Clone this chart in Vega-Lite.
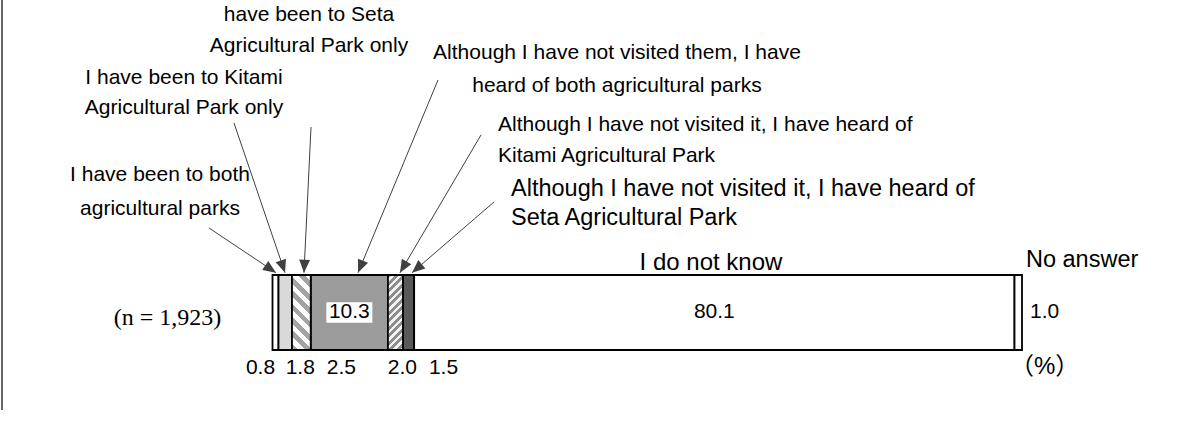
{
  "$schema": "https://vega.github.io/schema/vega-lite/v6.json",
  "width": 1179,
  "height": 421,
  "autosize": "none",
  "padding": 0,
  "background": "white",
  "config": {"view": {"stroke": null}, "text": {"font": "Liberation Sans", "color": "#000"}},
  "datasets": {
    "seg": [
      {"k": "a", "name": "I have been to both agricultural parks", "v": 0.8, "o": 1},
      {"k": "b", "name": "I have been to Kitami Agricultural Park only", "v": 1.8, "o": 2},
      {"k": "c", "name": "I have been to Seta Agricultural Park only", "v": 2.5, "o": 3},
      {"k": "d", "name": "Although I have not visited them, I have heard of both agricultural parks", "v": 10.3, "o": 4},
      {"k": "e", "name": "Although I have not visited it, I have heard of Kitami Agricultural Park", "v": 2.0, "o": 5},
      {"k": "f", "name": "Although I have not visited it, I have heard of Seta Agricultural Park", "v": 1.5, "o": 6},
      {"k": "g", "name": "I do not know", "v": 80.1, "o": 7},
      {"k": "h", "name": "No answer", "v": 1.0, "o": 8}
    ],
    "notes": [
      {"t": "have been to Seta", "x": 4.87, "y": 4.467, "r": "c"},
      {"t": "Agricultural Park only", "x": 4.87, "y": 4.053, "r": "c"},
      {"t": "I have been to Kitami", "x": -11.81, "y": 3.627, "r": "c"},
      {"t": "Agricultural Park only", "x": -11.81, "y": 3.227, "r": "c"},
      {"t": "I have been to both", "x": -15.01, "y": 2.333, "r": "c"},
      {"t": "agricultural parks", "x": -15.01, "y": 1.88, "r": "c"},
      {"t": "Although I have not visited them, I have", "x": 45.96, "y": 3.96, "r": "c"},
      {"t": "heard of both agricultural parks", "x": 45.96, "y": 3.52, "r": "c"},
      {"t": "Although I have not visited it, I have heard of", "x": 30.09, "y": 3.0, "r": "l"},
      {"t": "Kitami Agricultural Park", "x": 30.09, "y": 2.587, "r": "l"},
      {"t": "Although I have not visited it, I have heard of", "x": 31.82, "y": 2.147, "r": "L"},
      {"t": "Seta Agricultural Park", "x": 31.82, "y": 1.76, "r": "L"},
      {"t": "I do not know", "x": 58.5, "y": 1.16, "r": "h"},
      {"t": "No answer", "x": 100.53, "y": 1.2, "r": "hl"},
      {"t": "(n = 1,923)", "x": -14.01, "y": 0.427, "r": "n"},
      {"t": "（%）", "x": 98.4, "y": -0.227, "r": "u"}
    ],
    "leaders": [
      {"x": -8.47, "y": 1.627, "x2": 0.47, "y2": 1.03},
      {"x": -5.14, "y": 3.027, "x2": 1.67, "y2": 1.03},
      {"x": 5.14, "y": 2.973, "x2": 4.2, "y2": 1.03},
      {"x": 22.08, "y": 3.6, "x2": 11.41, "y2": 1.03},
      {"x": 27.82, "y": 2.867, "x2": 17.01, "y2": 1.03},
      {"x": 29.55, "y": 1.973, "x2": 18.61, "y2": 1.03}
    ],
    "frame": [{"edge": -36.09, "top": 4.6667, "bottom": -0.8}]
  },
  "layer": [
    {
      "data": {"name": "frame"},
      "mark": {"type": "rule", "stroke": "#000000", "strokeWidth": 1.2},
      "encoding": {
        "x": {"field": "edge", "type": "quantitative", "scale": {"domain": [-36.358, 120.947], "nice": false, "zero": false}, "axis": null},
        "y": {"field": "top", "type": "quantitative", "scale": {"domain": [-0.9467, 4.6667], "nice": false, "zero": false}, "axis": null},
        "y2": {"field": "bottom"}
      }
    },
    {
      "data": {"name": "seg"},
      "transform": [{"stack": "v", "sort": [{"field": "o", "order": "ascending"}], "groupby": [], "as": ["x0", "x1"]}],
      "mark": {"type": "rect", "stroke": "#000", "strokeWidth": 1.8},
      "encoding": {
        "x": {"field": "x0", "type": "quantitative", "scale": {"domain": [-36.358, 120.947], "nice": false, "zero": false}, "axis": null},
        "x2": {"field": "x1"},
        "y": {"datum": 0, "type": "quantitative", "scale": {"domain": [-0.9467, 4.6667], "nice": false, "zero": false}, "axis": null},
        "y2": {"datum": 1},
        "fill": {"field": "k", "type": "nominal", "scale": {"domain": ["a", "b", "c", "d", "e", "f", "g", "h"], "range": ["#ffffff", "#d9d9d9", "#ffffff", "#9b9b9b", "#ffffff", "#595959", "#ffffff", "#ffffff"]}, "legend": null}
      }
    },
    {
      "data": {"name": "seg"},
      "transform": [{"stack": "v", "sort": [{"field": "o", "order": "ascending"}], "groupby": [], "as": ["x0", "x1"]}, {"filter": "datum.k == 'c'"}],
      "mark": {"type": "rect", "stroke": "#000", "strokeWidth": 1.8,
        "fill": {"gradient": "linear", "x1": 0, "y1": 1, "x2": 0.2933, "y2": -0.1763, "stops": [
          {"offset": 0, "color": "#a3a3a3"}, {"offset": 0.0714, "color": "#a3a3a3"}, {"offset": 0.0714, "color": "#ffffff"}, {"offset": 0.1429, "color": "#ffffff"},
          {"offset": 0.1429, "color": "#a3a3a3"}, {"offset": 0.2143, "color": "#a3a3a3"}, {"offset": 0.2143, "color": "#ffffff"}, {"offset": 0.2857, "color": "#ffffff"},
          {"offset": 0.2857, "color": "#a3a3a3"}, {"offset": 0.3571, "color": "#a3a3a3"}, {"offset": 0.3571, "color": "#ffffff"}, {"offset": 0.4286, "color": "#ffffff"},
          {"offset": 0.4286, "color": "#a3a3a3"}, {"offset": 0.5, "color": "#a3a3a3"}, {"offset": 0.5, "color": "#ffffff"}, {"offset": 0.5714, "color": "#ffffff"},
          {"offset": 0.5714, "color": "#a3a3a3"}, {"offset": 0.6429, "color": "#a3a3a3"}, {"offset": 0.6429, "color": "#ffffff"}, {"offset": 0.7143, "color": "#ffffff"},
          {"offset": 0.7143, "color": "#a3a3a3"}, {"offset": 0.7857, "color": "#a3a3a3"}, {"offset": 0.7857, "color": "#ffffff"}, {"offset": 0.8571, "color": "#ffffff"},
          {"offset": 0.8571, "color": "#a3a3a3"}, {"offset": 0.9286, "color": "#a3a3a3"}, {"offset": 0.9286, "color": "#ffffff"}, {"offset": 1, "color": "#ffffff"}
        ]}},
      "encoding": {
        "x": {"field": "x0", "type": "quantitative", "scale": {"domain": [-36.358, 120.947], "nice": false, "zero": false}, "axis": null},
        "x2": {"field": "x1"},
        "y": {"datum": 0, "type": "quantitative", "scale": {"domain": [-0.9467, 4.6667], "nice": false, "zero": false}, "axis": null},
        "y2": {"datum": 1}
      }
    },
    {
      "data": {"name": "seg"},
      "transform": [{"stack": "v", "sort": [{"field": "o", "order": "ascending"}], "groupby": [], "as": ["x0", "x1"]}, {"filter": "datum.k == 'e'"}],
      "mark": {"type": "rect", "stroke": "#000", "strokeWidth": 1.8,
        "fill": {"gradient": "linear", "x1": 0, "y1": 0, "x2": 0.2308, "y2": 1.1538, "stops": [
          {"offset": 0, "color": "#8c8c8c"}, {"offset": 0.0417, "color": "#8c8c8c"}, {"offset": 0.0417, "color": "#f2f2f2"}, {"offset": 0.0833, "color": "#f2f2f2"},
          {"offset": 0.0833, "color": "#8c8c8c"}, {"offset": 0.125, "color": "#8c8c8c"}, {"offset": 0.125, "color": "#f2f2f2"}, {"offset": 0.1667, "color": "#f2f2f2"},
          {"offset": 0.1667, "color": "#8c8c8c"}, {"offset": 0.2083, "color": "#8c8c8c"}, {"offset": 0.2083, "color": "#f2f2f2"}, {"offset": 0.25, "color": "#f2f2f2"},
          {"offset": 0.25, "color": "#8c8c8c"}, {"offset": 0.2917, "color": "#8c8c8c"}, {"offset": 0.2917, "color": "#f2f2f2"}, {"offset": 0.3333, "color": "#f2f2f2"},
          {"offset": 0.3333, "color": "#8c8c8c"}, {"offset": 0.375, "color": "#8c8c8c"}, {"offset": 0.375, "color": "#f2f2f2"}, {"offset": 0.4167, "color": "#f2f2f2"},
          {"offset": 0.4167, "color": "#8c8c8c"}, {"offset": 0.4583, "color": "#8c8c8c"}, {"offset": 0.4583, "color": "#f2f2f2"}, {"offset": 0.5, "color": "#f2f2f2"},
          {"offset": 0.5, "color": "#8c8c8c"}, {"offset": 0.5417, "color": "#8c8c8c"}, {"offset": 0.5417, "color": "#f2f2f2"}, {"offset": 0.5833, "color": "#f2f2f2"},
          {"offset": 0.5833, "color": "#8c8c8c"}, {"offset": 0.625, "color": "#8c8c8c"}, {"offset": 0.625, "color": "#f2f2f2"}, {"offset": 0.6667, "color": "#f2f2f2"},
          {"offset": 0.6667, "color": "#8c8c8c"}, {"offset": 0.7083, "color": "#8c8c8c"}, {"offset": 0.7083, "color": "#f2f2f2"}, {"offset": 0.75, "color": "#f2f2f2"},
          {"offset": 0.75, "color": "#8c8c8c"}, {"offset": 0.7917, "color": "#8c8c8c"}, {"offset": 0.7917, "color": "#f2f2f2"}, {"offset": 0.8333, "color": "#f2f2f2"},
          {"offset": 0.8333, "color": "#8c8c8c"}, {"offset": 0.875, "color": "#8c8c8c"}, {"offset": 0.875, "color": "#f2f2f2"}, {"offset": 0.9167, "color": "#f2f2f2"},
          {"offset": 0.9167, "color": "#8c8c8c"}, {"offset": 0.9583, "color": "#8c8c8c"}, {"offset": 0.9583, "color": "#f2f2f2"}, {"offset": 1, "color": "#f2f2f2"}
        ]}},
      "encoding": {
        "x": {"field": "x0", "type": "quantitative", "scale": {"domain": [-36.358, 120.947], "nice": false, "zero": false}, "axis": null},
        "x2": {"field": "x1"},
        "y": {"datum": 0, "type": "quantitative", "scale": {"domain": [-0.9467, 4.6667], "nice": false, "zero": false}, "axis": null},
        "y2": {"datum": 1}
      }
    },
    {
      "data": {"name": "seg"},
      "transform": [{"stack": "v", "sort": [{"field": "o", "order": "ascending"}], "groupby": [], "as": ["x0", "x1"]}, {"calculate": "(datum.x0 + datum.x1) / 2", "as": "m"}, {"filter": "datum.k == 'd'"}],
      "mark": {"type": "point", "shape": "M-1,-0.45L1,-0.45L1,0.45L-1,0.45Z", "size": 2116, "filled": true, "fill": "#ffffff", "opacity": 1, "strokeWidth": 0},
      "encoding": {
        "x": {"field": "m", "type": "quantitative", "scale": {"domain": [-36.358, 120.947], "nice": false, "zero": false}, "axis": null},
        "y": {"datum": 0.5, "type": "quantitative", "scale": {"domain": [-0.9467, 4.6667], "nice": false, "zero": false}, "axis": null}
      }
    },
    {
      "data": {"name": "seg"},
      "transform": [{"stack": "v", "sort": [{"field": "o", "order": "ascending"}], "groupby": [], "as": ["x0", "x1"]}, {"calculate": "(datum.x0 + datum.x1) / 2", "as": "m"}, {"filter": "datum.k == 'd' || datum.k == 'g'"}],
      "mark": {"type": "text", "fontSize": 21, "baseline": "middle", "align": "center"},
      "encoding": {
        "x": {"field": "m", "type": "quantitative", "scale": {"domain": [-36.358, 120.947], "nice": false, "zero": false}, "axis": null},
        "y": {"datum": 0.5, "type": "quantitative", "scale": {"domain": [-0.9467, 4.6667], "nice": false, "zero": false}, "axis": null},
        "text": {"field": "v", "type": "quantitative", "format": ".1f"}
      }
    },
    {
      "data": {"name": "seg"},
      "transform": [{"stack": "v", "sort": [{"field": "o", "order": "ascending"}], "groupby": [], "as": ["x0", "x1"]}, {"filter": "datum.k == 'h'"}],
      "mark": {"type": "text", "fontSize": 21, "baseline": "middle", "align": "left", "dx": 8},
      "encoding": {
        "x": {"field": "x1", "type": "quantitative", "scale": {"domain": [-36.358, 120.947], "nice": false, "zero": false}, "axis": null},
        "y": {"datum": 0.5, "type": "quantitative", "scale": {"domain": [-0.9467, 4.6667], "nice": false, "zero": false}, "axis": null},
        "text": {"field": "v", "type": "quantitative", "format": ".1f"}
      }
    },
    {
      "data": {"name": "seg"},
      "transform": [{"stack": "v", "sort": [{"field": "o", "order": "ascending"}], "groupby": [], "as": ["x0", "x1"]}, {"calculate": "(datum.x0 + datum.x1) / 2", "as": "m"}, {"filter": "indexof(['a','b','c','e','f'], datum.k) >= 0"}],
      "mark": {"type": "text", "fontSize": 21, "baseline": "middle", "align": "center",
        "dx": {"expr": "datum.k == 'a' ? -15 : datum.k == 'b' ? 15 : datum.k == 'c' ? 40 : datum.k == 'e' ? 7 : 35"}},
      "encoding": {
        "x": {"field": "m", "type": "quantitative", "scale": {"domain": [-36.358, 120.947], "nice": false, "zero": false}, "axis": null},
        "y": {"datum": -0.24, "type": "quantitative", "scale": {"domain": [-0.9467, 4.6667], "nice": false, "zero": false}, "axis": null},
        "text": {"field": "v", "type": "quantitative", "format": ".1f"}
      }
    },
    {
      "data": {"name": "leaders"},
      "mark": {"type": "rule", "stroke": "#404040", "strokeWidth": 1},
      "encoding": {
        "x": {"field": "x", "type": "quantitative", "scale": {"domain": [-36.358, 120.947], "nice": false, "zero": false}, "axis": null},
        "y": {"field": "y", "type": "quantitative", "scale": {"domain": [-0.9467, 4.6667], "nice": false, "zero": false}, "axis": null},
        "x2": {"field": "x2"},
        "y2": {"field": "y2"}
      }
    },
    {
      "data": {"name": "leaders"},
      "transform": [{"calculate": "atan2((datum.x2 - datum.x) * 7.495, (datum.y2 - datum.y) * 75) * 180 / PI", "as": "ang"}],
      "mark": {"type": "point", "shape": "M0,0L0.42,1L-0.42,1Z", "size": 676, "filled": true, "fill": "#404040", "opacity": 1, "strokeWidth": 0},
      "encoding": {
        "x": {"field": "x2", "type": "quantitative", "scale": {"domain": [-36.358, 120.947], "nice": false, "zero": false}, "axis": null},
        "y": {"field": "y2", "type": "quantitative", "scale": {"domain": [-0.9467, 4.6667], "nice": false, "zero": false}, "axis": null},
        "angle": {"field": "ang", "type": "quantitative", "scale": null}
      }
    },
    {
      "data": {"name": "notes"},
      "transform": [{"filter": "datum.r == 'c'"}],
      "mark": {"type": "text", "fontSize": 21, "baseline": "middle", "align": "center"},
      "encoding": {
        "x": {"field": "x", "type": "quantitative", "scale": {"domain": [-36.358, 120.947], "nice": false, "zero": false}, "axis": null},
        "y": {"field": "y", "type": "quantitative", "scale": {"domain": [-0.9467, 4.6667], "nice": false, "zero": false}, "axis": null},
        "text": {"field": "t"}
      }
    },
    {
      "data": {"name": "notes"},
      "transform": [{"filter": "datum.r == 'l'"}],
      "mark": {"type": "text", "fontSize": 21, "baseline": "middle", "align": "left"},
      "encoding": {
        "x": {"field": "x", "type": "quantitative", "scale": {"domain": [-36.358, 120.947], "nice": false, "zero": false}, "axis": null},
        "y": {"field": "y", "type": "quantitative", "scale": {"domain": [-0.9467, 4.6667], "nice": false, "zero": false}, "axis": null},
        "text": {"field": "t"}
      }
    },
    {
      "data": {"name": "notes"},
      "transform": [{"filter": "datum.r == 'L' || datum.r == 'hl'"}],
      "mark": {"type": "text", "fontSize": 23.5, "baseline": "middle", "align": "left"},
      "encoding": {
        "x": {"field": "x", "type": "quantitative", "scale": {"domain": [-36.358, 120.947], "nice": false, "zero": false}, "axis": null},
        "y": {"field": "y", "type": "quantitative", "scale": {"domain": [-0.9467, 4.6667], "nice": false, "zero": false}, "axis": null},
        "text": {"field": "t"}
      }
    },
    {
      "data": {"name": "notes"},
      "transform": [{"filter": "datum.r == 'h'"}],
      "mark": {"type": "text", "fontSize": 24, "baseline": "middle", "align": "center"},
      "encoding": {
        "x": {"field": "x", "type": "quantitative", "scale": {"domain": [-36.358, 120.947], "nice": false, "zero": false}, "axis": null},
        "y": {"field": "y", "type": "quantitative", "scale": {"domain": [-0.9467, 4.6667], "nice": false, "zero": false}, "axis": null},
        "text": {"field": "t"}
      }
    },
    {
      "data": {"name": "notes"},
      "transform": [{"filter": "datum.r == 'n'"}],
      "mark": {"type": "text", "font": "Liberation Serif", "fontSize": 24, "baseline": "middle", "align": "center"},
      "encoding": {
        "x": {"field": "x", "type": "quantitative", "scale": {"domain": [-36.358, 120.947], "nice": false, "zero": false}, "axis": null},
        "y": {"field": "y", "type": "quantitative", "scale": {"domain": [-0.9467, 4.6667], "nice": false, "zero": false}, "axis": null},
        "text": {"field": "t"}
      }
    },
    {
      "data": {"name": "notes"},
      "transform": [{"filter": "datum.r == 'u'"}],
      "mark": {"type": "text", "font": "Liberation Sans, Noto Sans CJK JP", "fontSize": 24, "baseline": "middle", "align": "left"},
      "encoding": {
        "x": {"field": "x", "type": "quantitative", "scale": {"domain": [-36.358, 120.947], "nice": false, "zero": false}, "axis": null},
        "y": {"field": "y", "type": "quantitative", "scale": {"domain": [-0.9467, 4.6667], "nice": false, "zero": false}, "axis": null},
        "text": {"field": "t"}
      }
    }
  ]
}
